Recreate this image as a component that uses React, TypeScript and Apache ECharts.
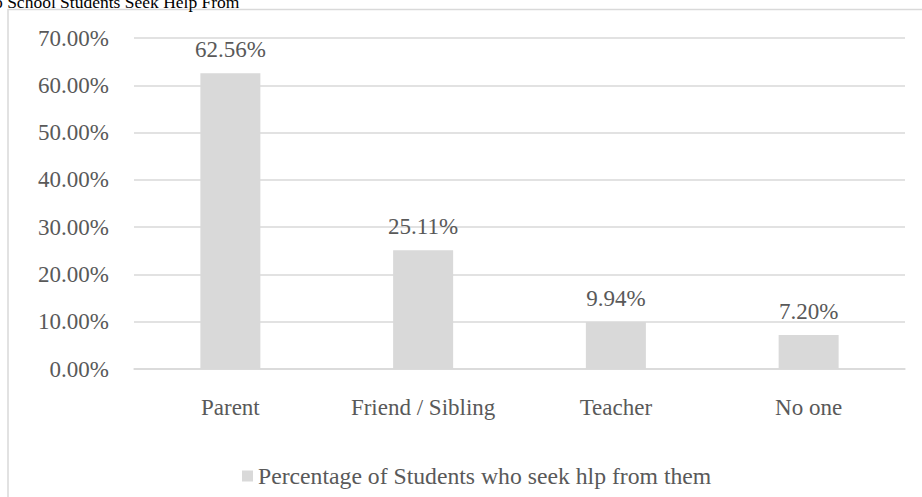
import React, { useEffect, useRef } from "react";
import * as echarts from "echarts";

// Who students turn to for help, share of respondents (%)
const categories = ["Parent", "Friend / Sibling", "Teacher", "No one"];
const shareValues = [62.56, 25.11, 9.94, 7.2];
const seriesName = "Percentage of Students who seek hlp from them";
const titleText = "o School Students Seek Help From";
const yTicks = [0, 10, 20, 30, 40, 50, 60, 70];

const FONT = "'Times New Roman', 'Liberation Serif', serif";
const TEXT = "#595959";
const LIGHT = "#d9d9d9";

export default function App() {
  const ref = useRef<HTMLDivElement>(null);

  useEffect(() => {
    if (!ref.current) return;
    const chart = echarts.init(ref.current, undefined, { renderer: "svg" });
    chart.setOption({
      animation: false,
      backgroundColor: "#ffffff",
      textStyle: { fontFamily: FONT },
      graphic: [
        {
          type: "rect",
          silent: true,
          shape: { x: 8, y: 9.5, width: 1000, height: 1000 },
          style: { fill: "none", stroke: LIGHT, lineWidth: 1.5 },
        },
        {
          type: "text",
          silent: true,
          x: -6,
          y: 11,
          style: {
            text: titleText,
            fill: "#000000",
            font: `17.5px ${FONT}`,
            verticalAlign: "bottom",
          },
        },
      ],
      grid: { left: 134, right: 17, top: 38, bottom: 128 },
      legend: {
        data: [seriesName],
        left: 237,
        top: 459,
        itemWidth: 11,
        itemHeight: 11,
        icon: "rect",
        selectedMode: false,
        textStyle: { color: TEXT, fontSize: 23.7, fontFamily: FONT },
      },
      xAxis: {
        type: "category",
        data: categories,
        axisLine: { show: true, lineStyle: { color: LIGHT, width: 1.5 } },
        axisTick: { show: false },
        axisLabel: { color: TEXT, fontSize: 23, fontFamily: FONT, margin: 27 },
      },
      yAxis: {
        type: "value",
        min: yTicks[0],
        max: yTicks[yTicks.length - 1],
        interval: 10,
        axisLine: { show: false },
        axisTick: { show: false },
        splitLine: { lineStyle: { color: LIGHT, width: 1.5 } },
        axisLabel: {
          color: TEXT,
          fontSize: 23,
          fontFamily: FONT,
          margin: 25,
          formatter: (v: number) => `${v.toFixed(2)}%`,
        },
      },
      series: [
        {
          name: seriesName,
          type: "bar",
          data: shareValues,
          barWidth: 60,
          itemStyle: { color: LIGHT },
          emphasis: { disabled: true },
          label: {
            show: true,
            position: "top",
            distance: 12,
            color: TEXT,
            fontSize: 23,
            fontFamily: FONT,
            formatter: (p: any) => `${Number(p.value).toFixed(2)}%`,
          },
        },
      ],
    });
    return () => chart.dispose();
  }, []);

  return (
    <div
      ref={ref}
      style={{ position: "absolute", left: 0, top: 0, width: 922, height: 497 }}
    />
  );
}
